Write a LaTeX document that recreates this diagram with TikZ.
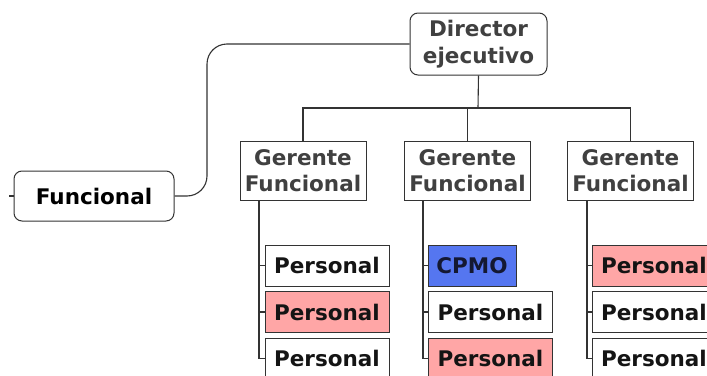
\documentclass[tikz,border=0pt]{standalone}
\usepackage{fontspec}
\setmainfont{DejaVu Sans}
\begin{document}
\begin{tikzpicture}[x=1pt,y=-1pt,
  every node/.style={inner sep=0pt, font=\fontsize{21.5}{26.5}\selectfont\bfseries, align=center},
  rbox/.style={draw=black!80, line width=1pt, rounded corners=8pt, fill=white},
  gbox/.style={draw=black!80, line width=1pt, fill=white, text=black!75, minimum width=126pt, minimum height=59pt},
  pbox/.style={draw=black!80, line width=1pt, fill=white, text=black!92, minimum width=124pt, minimum height=41pt},
  pink/.style={fill=red!35!white},
  link/.style={draw=black!80, line width=1.1pt}
]
\useasboundingbox (0,0) rectangle (707,375);
\clip (0,0) rectangle (707,375);
\fill[white] (0,0) rectangle (707,375);

\node[rbox, minimum width=160pt, minimum height=50pt, text=black] (func) at (94,196) {Funcional};
\node[rbox, minimum width=137pt, minimum height=62pt, text=black!75] (dir) at (478.5,44) {Director\\ejecutivo};

\node[gbox] (g1) at (303,170.5) {Gerente\\Funcional};
\node[gbox] (g2) at (467.5,170.5) {Gerente\\Funcional};
\node[gbox] (g3) at (630.5,170.5) {Gerente\\Funcional};

\node[pbox] (p11) at (327,265.5) {Personal};
\node[pbox, pink] (p12) at (327,312) {Personal};
\node[pbox] (p13) at (327,358.5) {Personal};

\node[pbox, minimum width=88pt, fill={rgb,255:red,85;green,118;blue,240}, text={rgb,255:red,20;green,24;blue,50}] (p21) at (472,265.5) {CPMO};
\node[pbox] (p22) at (490.5,312) {Personal};
\node[pbox, pink] (p23) at (490.5,358.5) {Personal};

\node[pbox, pink] (p31) at (654,265.5) {Personal};
\node[pbox] (p32) at (654,312) {Personal};
\node[pbox] (p33) at (654,358.5) {Personal};

% connectors
\coordinate (stub) at (9,196);
\draw[link] (stub) -- (func.west);
\draw[link, rounded corners=20pt] (func.east) -- (207,196) -- (207,44) -- (dir.west);
\coordinate (bus) at (478,108);
\draw[link] (dir.south) -- (bus);
\draw[link] (g1.north) |- (bus) -| (g3.north);
\draw[link] (g2.north) -- (g2.north |- bus);

\foreach \g/\x/\a/\b/\c in {g1/259/p11/p12/p13, g2/423/p21/p22/p23, g3/587/p31/p32/p33}{
  \coordinate (v) at (\x,200);
  \draw[link] (\x,200) -- (\x,358.5) -- (\c.west);
  \draw[link] (\x,265.5) -- (\a.west);
  \draw[link] (\x,312) -- (\b.west);
}
\end{tikzpicture}
\end{document}
